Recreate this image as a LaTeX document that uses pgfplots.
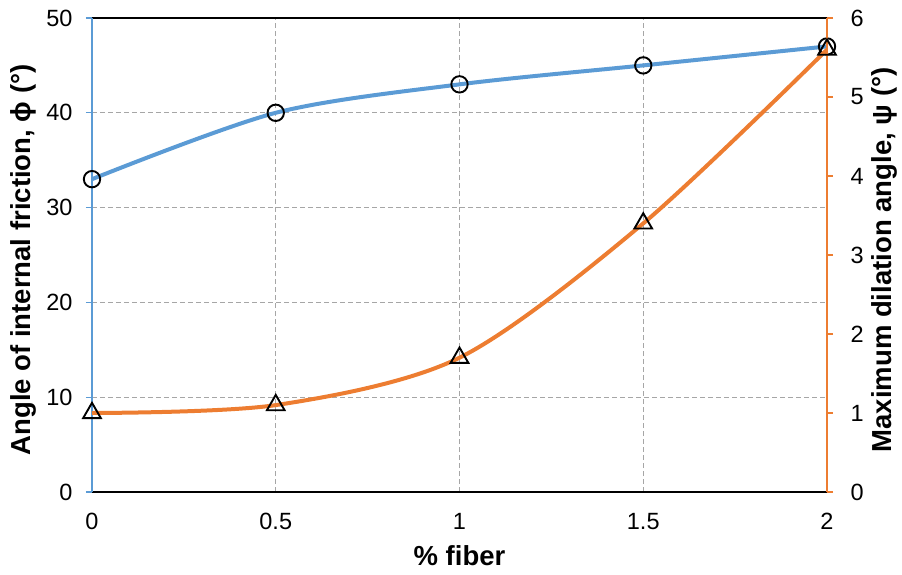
\documentclass[border=0pt]{standalone}
\usepackage{pgfplots}
\pgfplotsset{compat=1.18}
\usepackage{fontspec}
\setmainfont{Liberation Sans}
\definecolor{xlblue}{HTML}{5B9BD5}
\definecolor{xlorange}{HTML}{ED7D31}
\definecolor{xlgrid}{HTML}{A6A6A6}
\begin{document}
\begin{tikzpicture}[x=1pt,y=1pt]
\path[use as bounding box] (-92,-82) rectangle (810,492);
\pgfplotsset{
  every axis/.style={
    scale only axis, width=735pt, height=474pt,
    at={(0,0)}, anchor=south west,
    xmin=0, xmax=2,
    tick label style={font=\fontsize{23.5}{26}\selectfont},
    label style={font=\fontsize{27.5}{30}\selectfont\bfseries},
    /pgf/number format/assume math mode=true,
  }
}
\begin{axis}[
  ymin=0, ymax=50,
  axis x line*=box, axis y line*=left,
  x axis line style={black, line width=1.6pt},
  y axis line style={xlblue, line width=1.4pt},
  xtick={0,0.5,1,1.5,2},
  xticklabels={0,0.5,1,1.5,2},
  ytick={0,10,...,50},
  xtick style={draw=none},
  ytick style={xlblue, line width=1.2pt},
  tick align=outside, major tick length=6pt,
  xticklabel style={yshift=-12pt},
  yticklabel style={xshift=-10pt},
  grid=major,
  major grid style={xlgrid, dash pattern=on 5pt off 3pt, line width=1.2pt},
  xlabel={\% fiber},
  xlabel style={at={([yshift=-64pt]axis description cs:0.5,0)}, anchor=center},
  ylabel={Angle of internal friction, ϕ (°)},
  ylabel style={at={([xshift=-69pt,yshift=-5pt]axis description cs:0,0.5)}, anchor=center},
]
\addplot[xlblue, line width=4pt, smooth, tension=0.5,
  mark=o, mark size=8.2pt, mark options={black, line width=1.9pt, fill=white, solid}]
  coordinates {(0,33) (0.5,40) (1,43) (1.5,45) (2,47)};
\end{axis}
\begin{axis}[
  ymin=0, ymax=6,
  axis x line=none, axis y line*=right,
  y axis line style={xlorange, line width=1.4pt},
  ytick={0,1,...,6},
  ytick style={xlorange, line width=1.2pt},
  tick align=outside, major tick length=6pt,
  yticklabel style={xshift=14pt},
  ylabel={Maximum dilation angle, ψ (°)},
  ylabel style={at={([xshift=57pt,yshift=-5pt]axis description cs:1,0.5)}, anchor=center},
]
\addplot[xlorange, line width=4pt, smooth, tension=0.5,
  mark=triangle, mark size=10.2pt, mark options={black, line width=1.9pt, fill=white, solid}]
  coordinates {(0,1.0) (0.5,1.1) (1,1.7) (1.5,3.4) (2,5.6)};
\end{axis}
\end{tikzpicture}
\end{document}
